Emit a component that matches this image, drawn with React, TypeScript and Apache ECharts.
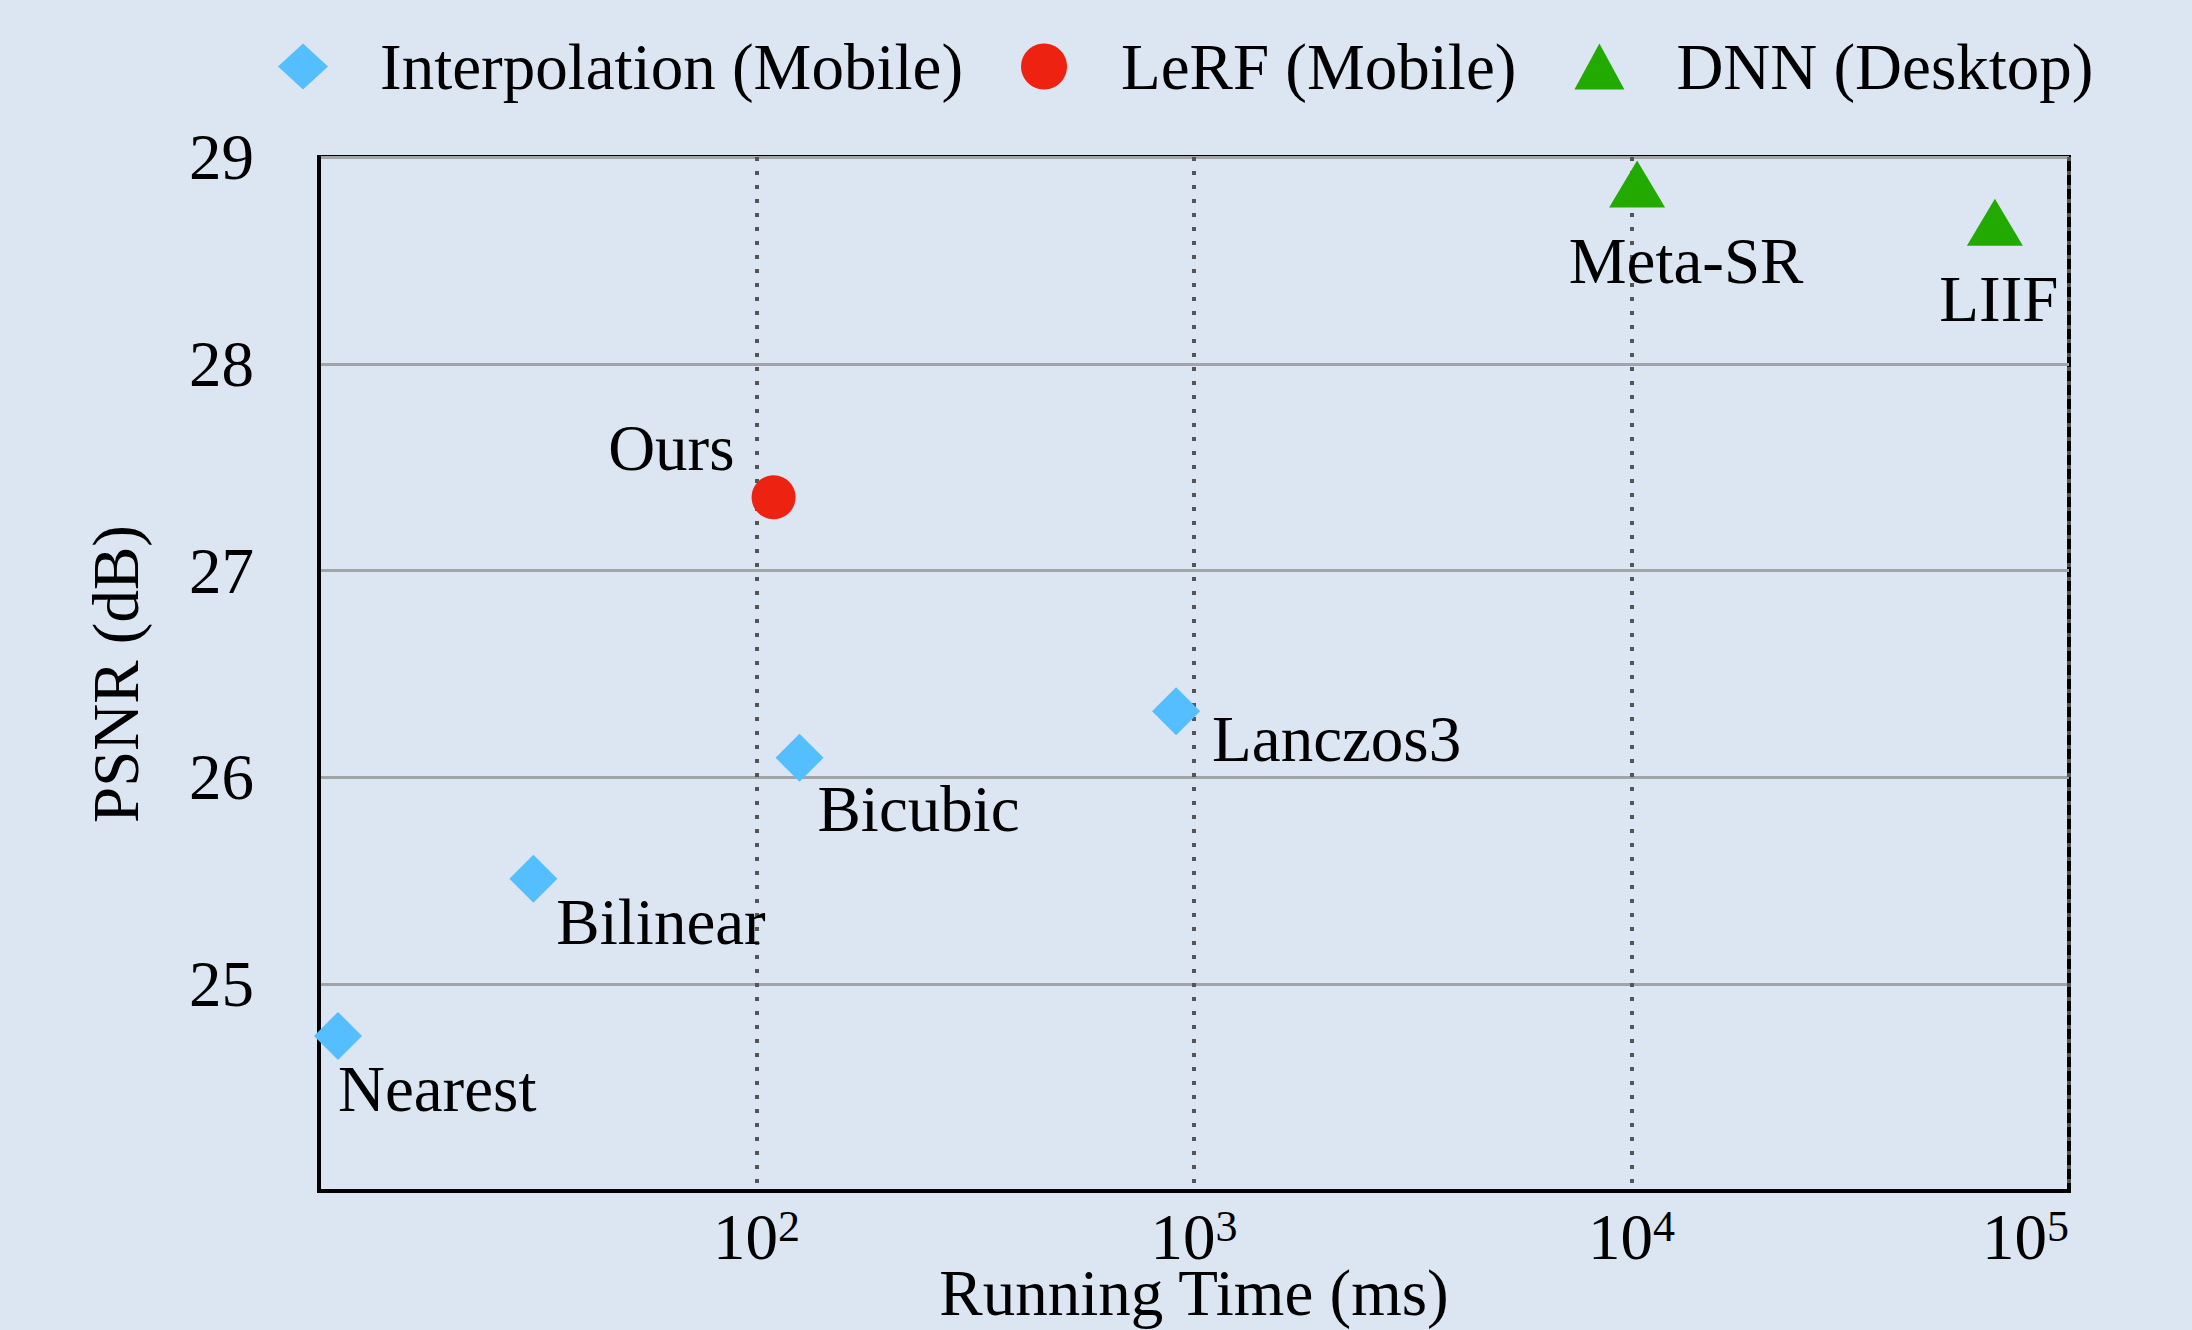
import React, { useEffect, useRef } from 'react';
import * as echarts from 'echarts';

// ---------- data ----------
const interpNames = ['Nearest', 'Bilinear', 'Bicubic', 'Lanczos3'];
const interpTimeMs = [11.05, 30.9, 125.4, 910];
const interpPsnr = [24.75, 25.51, 26.095, 26.32];

const lerfNames = ['Ours'];
const lerfTimeMs = [109.4];
const lerfPsnr = [27.355];

const dnnNames = ['Meta-SR', 'LIIF'];
const dnnTimeMs = [10300, 67700];
const dnnPsnr = [28.87, 28.685];

const seriesNames = ['Interpolation (Mobile)', 'LeRF (Mobile)', 'DNN (Desktop)'];
const xAxisTitle = 'Running Time (ms)';
const yAxisTitle = 'PSNR (dB)';

// ---------- styles ----------
const FONT = '"Liberation Serif", "Times New Roman", Times, serif';
const BG = '#dce6f2';
const FS = 65;

const labelPlacement: Record<string, { align: string; offset: number[] }> = {
  Nearest: { align: 'left', offset: [0, 53] },
  Bilinear: { align: 'left', offset: [23, 43] },
  Bicubic: { align: 'left', offset: [18, 51] },
  Lanczos3: { align: 'left', offset: [36, 28] },
  Ours: { align: 'right', offset: [-39, -49] },
  'Meta-SR': { align: 'center', offset: [49, 77] },
  LIIF: { align: 'center', offset: [4, 77] },
};

const makeData = (names: string[], xs: number[], ys: number[]) =>
  names.map((n, i) => {
    const p = labelPlacement[n];
    return {
      name: n,
      value: [xs[i], ys[i]],
      label: {
        position: ['50%', '50%'],
        align: p.align,
        verticalAlign: 'middle',
        offset: p.offset,
      },
    };
  });

const baseLabel = {
  show: true,
  formatter: '{b}',
  fontFamily: FONT,
  fontSize: FS,
  lineHeight: FS,
  color: '#000',
};

const option: any = {
  animation: false,
  backgroundColor: BG,
  textStyle: { fontFamily: FONT },
  legend: {
    left: 278,
    top: 34,
    padding: 0,
    itemWidth: 50,
    itemHeight: 46,
    itemGap: 58,
    itemStyle: { borderWidth: 0 },
    textStyle: {
      fontFamily: FONT,
      fontSize: FS,
      color: '#000',
      lineHeight: 46,
      padding: [0, 0, 0, 47],
    },
    data: seriesNames,
  },
  grid: {
    left: 319,
    right: 123,
    top: 157,
    bottom: 139,
    show: true,
    borderColor: '#000',
    borderWidth: 4,
    backgroundColor: 'transparent',
    containLabel: false,
    outerBoundsMode: 'none',
  },
  xAxis: {
    type: 'log',
    logBase: 10,
    min: 10,
    max: 100000,
    name: xAxisTitle,
    nameLocation: 'middle',
    nameGap: 76,
    nameMoveOverlap: false,
    nameTextStyle: { fontFamily: FONT, fontSize: FS, lineHeight: 52, color: '#000' },
    axisLine: { show: true, lineStyle: { color: '#000', width: 4 } },
    axisTick: { show: false },
    axisLabel: {
      margin: 20,
      showMinLabel: false,
      alignMaxLabel: 'right',
      color: '#000',
      formatter: (v: number) => {
        const e = Math.round(Math.log10(v));
        if (e <= 1) return '';
        return '{b|10}{s|' + e + '}';
      },
      rich: {
        b: { fontFamily: FONT, fontSize: FS, lineHeight: 52, color: '#000' },
        s: { fontFamily: FONT, fontSize: 44, lineHeight: 30, padding: [0, 0, 22, 0], color: '#000' },
      },
    },
    splitLine: {
      show: true,
      lineStyle: { color: '#555555', width: 4, type: [4, 10] },
    },
  },
  yAxis: {
    type: 'value',
    min: 24,
    max: 29,
    interval: 1,
    name: yAxisTitle,
    nameLocation: 'middle',
    nameGap: 171,
    nameMoveOverlap: false,
    nameTextStyle: { fontFamily: FONT, fontSize: FS, lineHeight: FS, color: '#000' },
    axisLine: { show: true, lineStyle: { color: '#000', width: 4 } },
    axisTick: { show: false },
    axisLabel: {
      margin: 65,
      showMinLabel: false,
      fontFamily: FONT,
      fontSize: FS,
      color: '#000',
    },
    splitLine: { show: true, lineStyle: { color: '#a2a5a8', width: 3 } },
  },
  series: [
    {
      type: 'scatter',
      name: seriesNames[0],
      symbol: 'diamond',
      symbolSize: 48,
      clip: false,
      itemStyle: { color: '#55befe', opacity: 1 },
      label: baseLabel,
      data: makeData(interpNames, interpTimeMs, interpPsnr),
    },
    {
      type: 'scatter',
      name: seriesNames[1],
      symbol: 'circle',
      symbolSize: 44,
      clip: false,
      itemStyle: { color: '#ee2211', opacity: 1 },
      label: baseLabel,
      data: makeData(lerfNames, lerfTimeMs, lerfPsnr),
    },
    {
      type: 'scatter',
      name: seriesNames[2],
      symbol: 'triangle',
      symbolSize: [56, 47],
      clip: false,
      itemStyle: { color: '#22aa00', opacity: 1 },
      label: baseLabel,
      data: makeData(dnnNames, dnnTimeMs, dnnPsnr),
    },
  ],
};

export default function App() {
  const ref = useRef<HTMLDivElement>(null);
  useEffect(() => {
    document.body.style.margin = '0';
    document.body.style.background = BG;
    const chart = echarts.init(ref.current as HTMLDivElement, null, { renderer: 'svg' });
    chart.setOption(option);
    return () => chart.dispose();
  }, []);
  return <div ref={ref} style={{ width: 2192, height: 1330, background: BG }} />;
}
